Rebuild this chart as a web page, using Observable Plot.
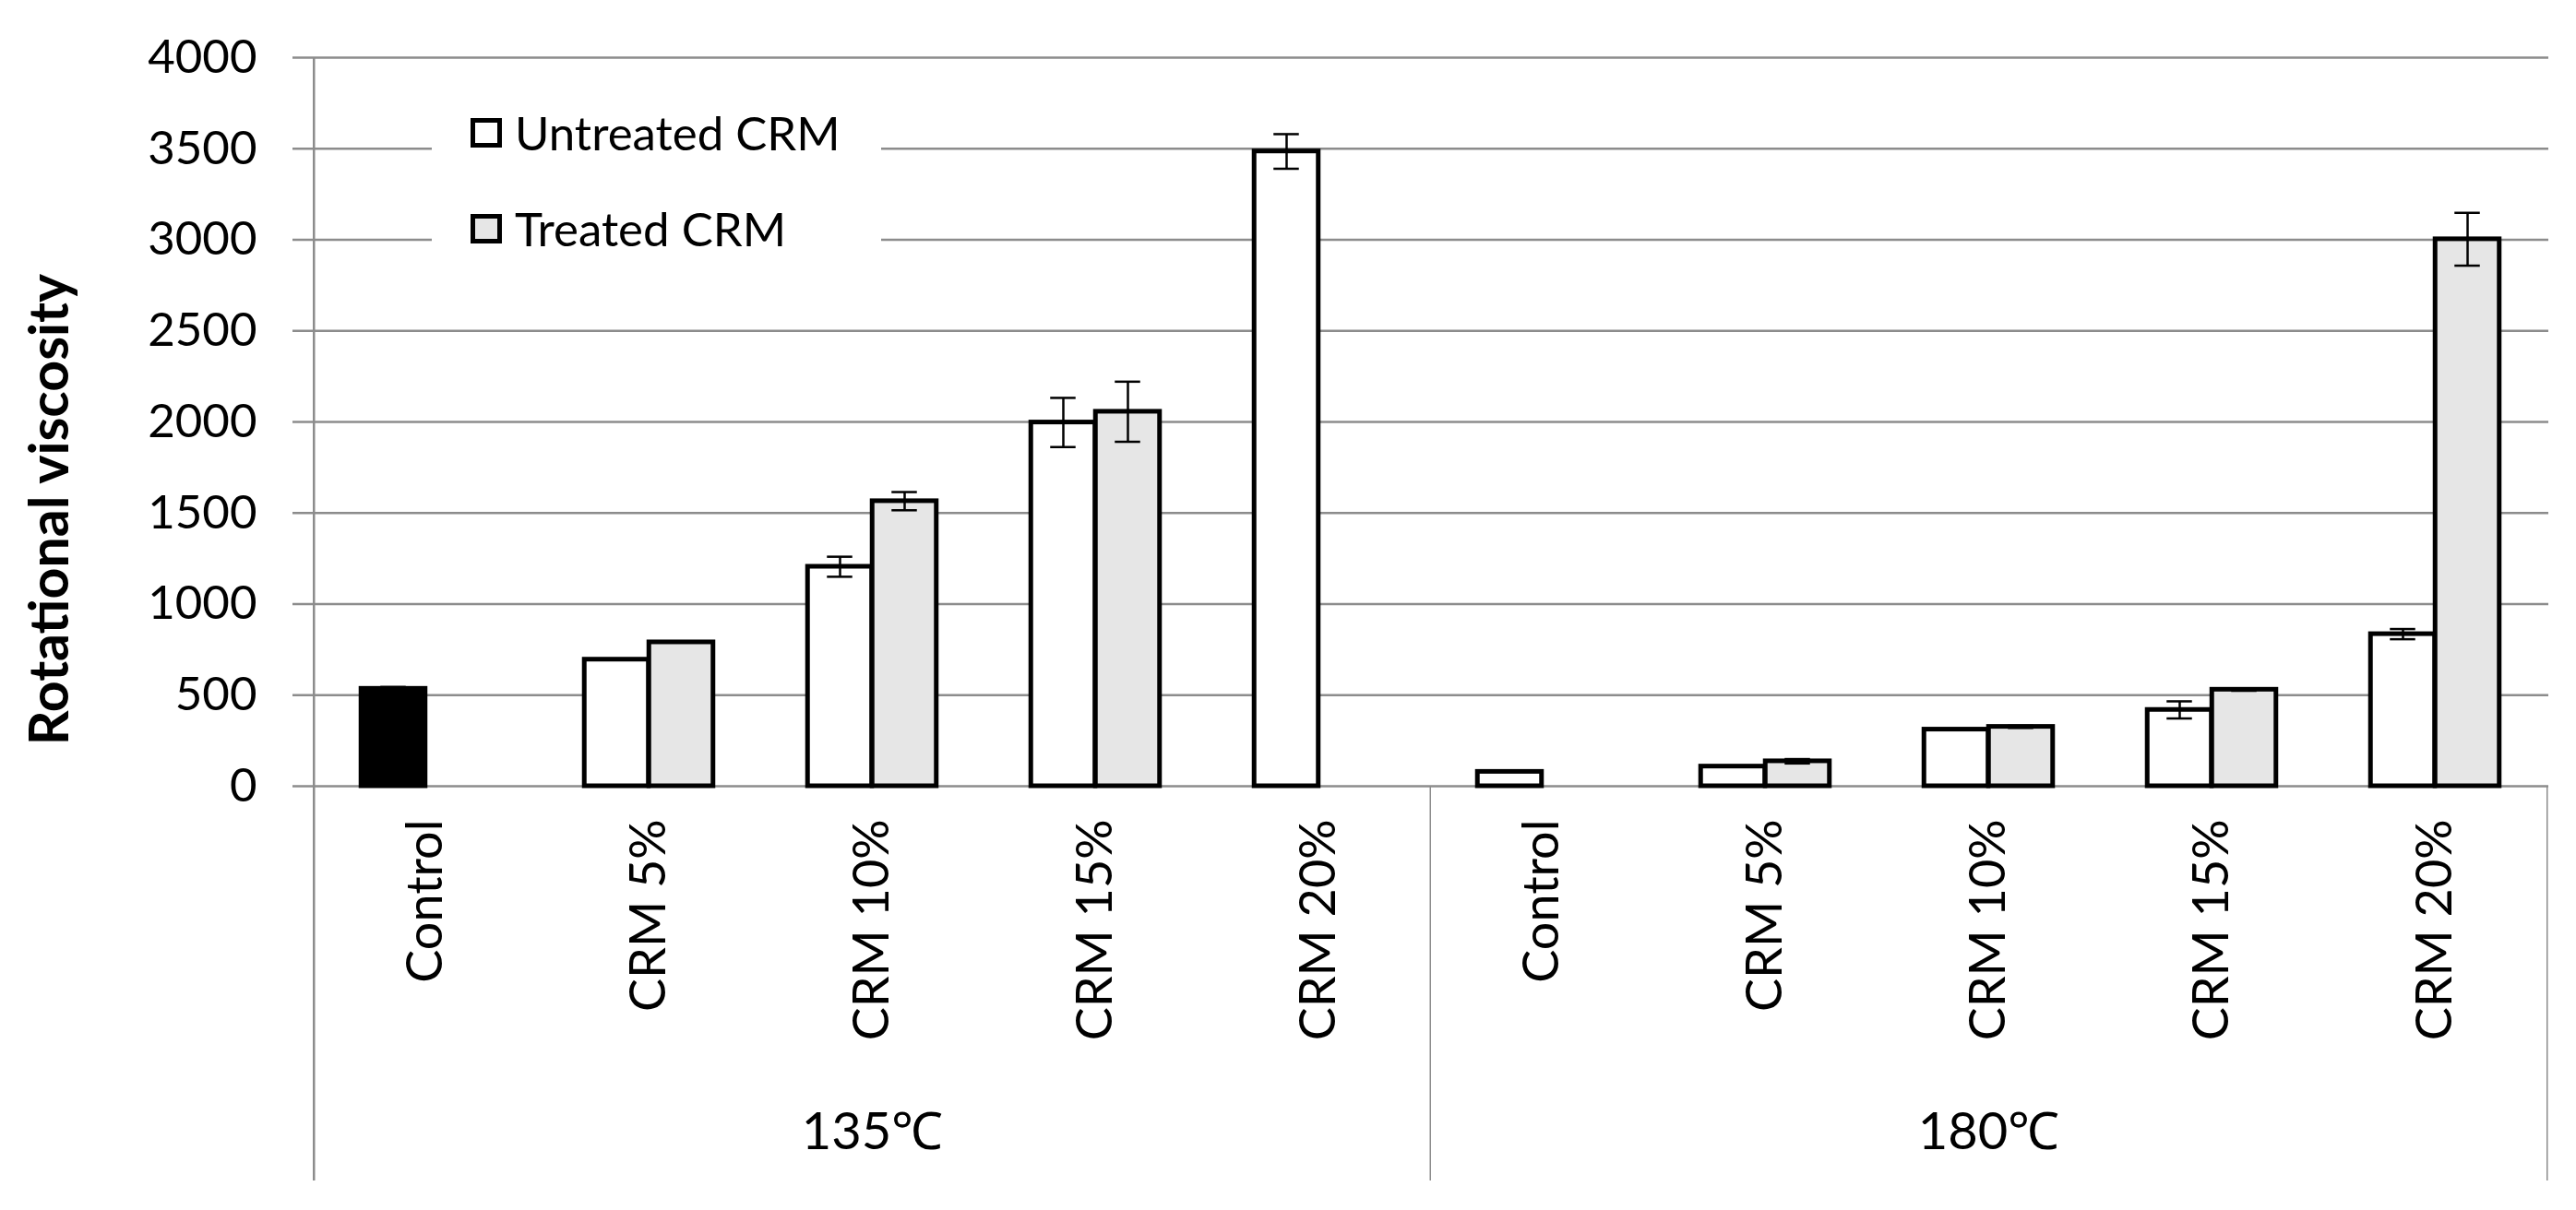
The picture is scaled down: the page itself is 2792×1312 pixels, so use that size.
<!DOCTYPE html>
<html>
<head>
<meta charset="utf-8">
<script src="https://cdn.jsdelivr.net/npm/d3@7"></script>
<script src="https://cdn.jsdelivr.net/npm/@observablehq/plot@0.6"></script>
<style>
  body { margin: 0; background: #fff; }
  #wrap { position: relative; width: 2792px; height: 1312px; font-family: Lato, "Open Sans", sans-serif; }
  #legend { position: absolute; left: 468px; top: 86px; width: 487px; height: 204px; background: #fff; }
  .item { position: absolute; left: 42px; display: flex; align-items: center; font-size: 51px; color: #000; line-height: 1; }
  .sw { width: 34px; height: 32px; border: 5px solid #000; box-sizing: border-box; margin-right: 14px; }
</style>
</head>
<body>
<div id="wrap">
  <div id="chart"></div>
  <div id="legend">
    <div class="item" style="top:32px"><div class="sw" style="background:#fff"></div><span>Untreated CRM</span></div>
    <div class="item" style="top:136px"><div class="sw" style="background:#e6e6e6"></div><span>Treated CRM</span></div>
  </div>
</div>
<script>
// ---- data ----
const temps = ["135℃", "180℃"];
const categories = ["Control", "CRM 5%", "CRM 10%", "CRM 15%", "CRM 20%"];
const series = ["Untreated CRM", "Treated CRM"];

const untreated135 = [535, 695, 1205, 1997, 3485];
const untreated135Err = [10, 0, 55, 135, 95];
const treated135 = [null, 790, 1565, 2056, null];
const treated135Err = [null, 0, 50, 165, null];

const untreated180 = [79, 108, 311, 419, 835];
const untreated180Err = [0, 0, 0, 47, 28];
const treated180 = [null, 137, 326, 530, 3003];
const treated180Err = [null, 12, 6, 6, 145];

const yTicks = [0, 500, 1000, 1500, 2000, 2500, 3000, 3500, 4000];

// ---- build table ----
const keyOf = (t, c) => t + " " + c;
const keys = temps.flatMap(t => categories.map(c => keyOf(t, c)));
const catOf = k => k.slice(k.indexOf(" ") + 1);

const valueSets = {
  "135℃": {"Untreated CRM": [untreated135, untreated135Err], "Treated CRM": [treated135, treated135Err]},
  "180℃": {"Untreated CRM": [untreated180, untreated180Err], "Treated CRM": [treated180, treated180Err]}
};
const rows = [];
for (const t of temps) for (const s of series) {
  const [vals, errs] = valueSets[t][s];
  categories.forEach((c, i) => {
    if (vals[i] == null) return;
    rows.push({key: keyOf(t, c), temp: t, cat: c, series: s, value: vals[i], err: errs[i]});
  });
}
const tempLabels = temps.map(t => ({key: keyOf(t, categories[2]), temp: t}));

// ---- layout ----
const W = 2792, H = 1312;
const mL = 337, mR = 30, mT = 62, mB = 460;
const bw = (W - mL - mR) / keys.length;      // band width
const barW = bw * 0.2887;
const inU = {insetLeft: bw / 2 - barW, insetRight: bw / 2};
const inT = {insetLeft: bw / 2, insetRight: bw / 2 - barW};
const capW = 28;
const grey = "#8c8c8c";

const fillOf = d => d.series === "Treated CRM" ? "#e6e6e6" : (d.temp === "135℃" && d.cat === "Control" ? "#000" : "#fff");
const U = rows.filter(d => d.series === "Untreated CRM");
const T = rows.filter(d => d.series === "Treated CRM");
const errU = U.filter(d => d.err > 0);
const errT = T.filter(d => d.err > 0);

const errMarks = (data, dx) => [
  Plot.ruleX(data, {x: "key", y1: d => d.value - d.err, y2: d => d.value + d.err, dx, stroke: "#000", strokeWidth: 2.5}),
  Plot.tickY(data, {x: "key", y: d => d.value - d.err, insetLeft: bw / 2 + dx - capW / 2, insetRight: bw / 2 - dx - capW / 2, stroke: "#000", strokeWidth: 2.5}),
  Plot.tickY(data, {x: "key", y: d => d.value + d.err, insetLeft: bw / 2 + dx - capW / 2, insetRight: bw / 2 - dx - capW / 2, stroke: "#000", strokeWidth: 2.5})
];

const chart = Plot.plot({
  width: W, height: H,
  marginLeft: mL, marginRight: mR, marginTop: mT, marginBottom: mB,
  style: {fontFamily: "Lato, 'Open Sans', sans-serif", background: "#fff", color: "#000"},
  x: {domain: keys, padding: 0, axis: null},
  y: {domain: [0, 4000], axis: null},
  marks: [
    Plot.gridY(yTicks, {stroke: grey, strokeOpacity: 1, strokeWidth: 2.5, insetLeft: -20}),
    // value axis line + left border of category box
    Plot.ruleX([keys[0]], {dx: -bw / 2, stroke: grey, strokeWidth: 2.5, insetBottom: -428}),
    // dividers of the category box
    Plot.ruleX([keys[5]], {dx: -bw / 2, y1: 0, y2: 0, stroke: grey, strokeWidth: 1.5, insetBottom: -428}),
    Plot.ruleX([keys[keys.length - 1]], {dx: bw / 2, y1: 0, y2: 0, stroke: grey, strokeWidth: 1.5, insetBottom: -428}),
    Plot.barY(U, {x: "key", y: "value", fill: fillOf, stroke: "#000", strokeWidth: 5, ...inU}),
    Plot.barY(T, {x: "key", y: "value", fill: fillOf, stroke: "#000", strokeWidth: 5, ...inT}),
    ...errMarks(errU, -barW / 2),
    ...errMarks(errT, barW / 2),
    Plot.axisY({ticks: yTicks, tickFormat: d => String(d), tickSize: 0, tickPadding: 59, fontSize: 51, label: null}),
    Plot.axisX({anchor: "bottom", tickRotate: -90, tickSize: 0, tickPadding: 36, fontSize: 54, tickFormat: catOf, label: null}),
    Plot.text(tempLabels, {x: "key", text: "temp", frameAnchor: "bottom", lineAnchor: "middle", dy: 376, fontSize: 56}),
    Plot.text(["Rotational viscosity"], {text: d => d, frameAnchor: "left", textAnchor: "middle", lineAnchor: "middle", rotate: -90, dx: -282, dy: 95, fontSize: 59, fontWeight: "bold"})
  ]
});
document.getElementById("chart").appendChild(chart);
</script>
</body>
</html>
